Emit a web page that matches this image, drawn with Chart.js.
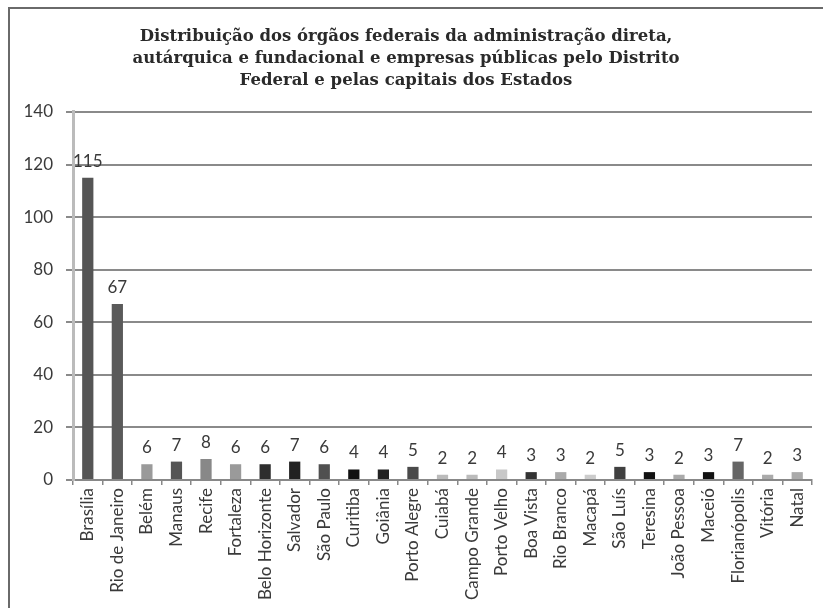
<!DOCTYPE html>
<html>
<head>
<meta charset="utf-8">
<script src="https://cdn.jsdelivr.net/npm/chart.js@4/dist/chart.umd.min.js"></script>
<style>
    html, body { margin: 0; padding: 0; background: #fff; overflow: hidden; }
    #frame {
        position: absolute; left: 8px; top: 7px; width: 840px; height: 640px;
        border: 2px solid #6a6a6a;
    }
    canvas { position: absolute; left: 0; top: 0; }
</style>
</head>
<body>
<div id="frame"></div>
<canvas id="chart" width="823" height="608"></canvas>
<script>
const capitals = ['Brasília', 'Rio de Janeiro', 'Belém', 'Manaus', 'Recife', 'Fortaleza',
    'Belo Horizonte', 'Salvador', 'São Paulo', 'Curitiba', 'Goiânia', 'Porto Alegre',
    'Cuiabá', 'Campo Grande', 'Porto Velho', 'Boa Vista', 'Rio Branco', 'Macapá',
    'São Luís', 'Teresina', 'João Pessoa', 'Maceió', 'Florianópolis', 'Vitória', 'Natal'];
const orgaos = [115, 67, 6, 7, 8, 6, 6, 7, 6, 4, 4, 5, 2, 2, 4, 3, 3, 2, 5, 3, 2, 3, 7, 2, 3];
const yTicks = [0, 20, 40, 60, 80, 100, 120, 140];
const barColors = ['#555', '#5a5a5a', '#9a9a9a', '#555', '#888', '#9a9a9a', '#2e2e2e', '#222',
    '#505050', '#111', '#222', '#4a4a4a', '#bbb', '#bbb', '#c8c8c8', '#333', '#aaa', '#ccc',
    '#404040', '#111', '#aaa', '#111', '#666', '#aaa', '#aaa'];

const titleLines = [
    'Distribuição dos órgãos federais da administração direta,',
    'autárquica e fundacional e empresas públicas pelo Distrito',
    'Federal e pelas capitais dos Estados'
];

// numbers above the bars
const valueLabels = {
    id: 'valueLabels',
    afterDatasetsDraw(chart) {
        const ctx = chart.ctx;
        const meta = chart.getDatasetMeta(0);
        ctx.save();
        ctx.font = '17px Lato';
        ctx.fillStyle = '#3a3a3a';
        ctx.textAlign = 'center';
        ctx.textBaseline = 'bottom';
        meta.data.forEach((bar, i) => {
            ctx.fillText(orgaos[i], bar.x, bar.y - 8);
        });
        ctx.restore();
    }
};

new Chart(document.getElementById('chart').getContext('2d'), {
    type: 'bar',
    data: {
        labels: capitals,
        datasets: [{
            data: orgaos,
            backgroundColor: barColors,
            borderWidth: 0,
            categoryPercentage: 1,
            barPercentage: 0.38
        }]
    },
    options: {
        responsive: false,
        animation: false,
        layout: { padding: { left: 0, right: 11, top: 0, bottom: 0 } },
        plugins: {
            legend: { display: false },
            tooltip: { enabled: false },
            title: {
                display: true,
                text: titleLines,
                color: '#2a2a2a',
                font: { family: 'DejaVu Serif', size: 16.5, weight: 'bold', lineHeight: 1.333 },
                padding: { top: 26, bottom: 20 }
            }
        },
        scales: {
            x: {
                grid: { display: true, drawOnChartArea: false, offset: true, color: '#888', tickLength: 5, lineWidth: 1.5 },
                border: { color: '#888', width: 2 },
                ticks: {
                    minRotation: 90, maxRotation: 90, autoSkip: false, padding: 3,
                    color: '#3a3a3a', font: { family: 'Lato', size: 17 }
                },
                afterFit(scale) { scale.height = 128; }
            },
            y: {
                min: 0, max: 140,
                afterBuildTicks(scale) { scale.ticks = yTicks.map(v => ({ value: v })); },
                grid: { color: '#8a8a8a', lineWidth: 2, tickLength: 7 },
                border: { color: '#bbb', width: 3 },
                ticks: { padding: 13, color: '#3a3a3a', font: { family: 'Lato', size: 17 } },
                afterFit(scale) { scale.width = 73; }
            }
        }
    },
    plugins: [valueLabels]
});
</script>
</body>
</html>
